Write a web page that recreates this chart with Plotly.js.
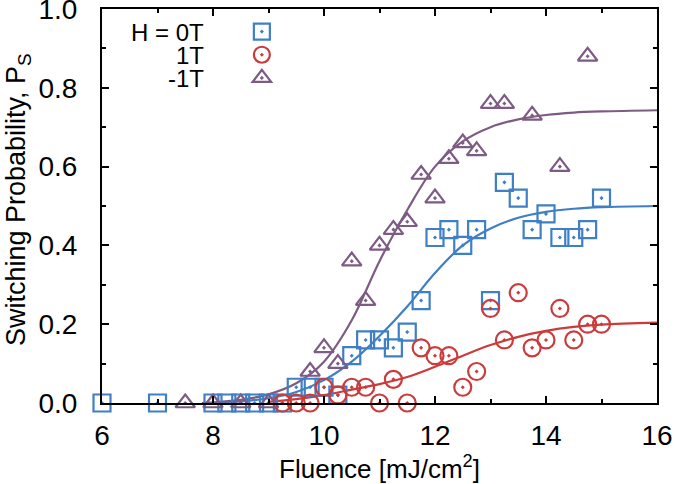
<!DOCTYPE html>
<html>
<head>
<meta charset="utf-8">
<script src="https://cdn.plot.ly/plotly-3.0.1.min.js"></script>
<style>html,body{margin:0;padding:0;background:#fff;}#plot{width:675px;height:484px;}</style>
</head>
<body>
<div id="plot"></div>
<script>
// Measured data: H = 0T (squares)
const h0X = [6, 7, 8, 8.25, 8.5, 8.75, 9, 9.25, 9.5, 9.75, 10, 10.25, 10.5, 10.75, 11, 11.25, 11.5, 11.75, 12, 12.25, 12.5, 12.75, 13, 13.25, 13.5, 13.75, 14, 14.25, 14.5, 14.75, 15];
const h0Y = [0, 0, 0, 0, 0, 0, 0, 0, 0.04, 0.04, 0.04, 0.02, 0.12, 0.16, 0.16, 0.14, 0.18, 0.26, 0.42, 0.44, 0.40, 0.44, 0.26, 0.56, 0.52, 0.44, 0.48, 0.42, 0.42, 0.44, 0.52];
// H = 1T (circles)
const h1X = [9.25, 9.5, 9.75, 10, 10.25, 10.5, 10.75, 11, 11.25, 11.5, 11.75, 12, 12.25, 12.5, 12.75, 13, 13.25, 13.5, 13.75, 14, 14.25, 14.5, 14.75, 15];
const h1Y = [0, 0, 0, 0.04, 0.02, 0.04, 0.04, 0, 0.06, 0, 0.14, 0.12, 0.12, 0.04, 0.08, 0.24, 0.16, 0.28, 0.14, 0.16, 0.24, 0.16, 0.20, 0.20];
// H = -1T (triangles)
const hm1X = [7.5, 8, 8.5, 9, 9.75, 10, 10.25, 10.5, 10.75, 11, 11.25, 11.5, 11.75, 12, 12.25, 12.5, 12.75, 13, 13.25, 13.75, 14.25, 14.75];
const hm1Y = [0, 0, 0, 0, 0.08, 0.14, 0.10, 0.36, 0.26, 0.40, 0.44, 0.46, 0.58, 0.52, 0.62, 0.66, 0.64, 0.76, 0.76, 0.73, 0.60, 0.88];

// Fit curves
const fit0X = [8, 8.5, 9, 9.5, 10, 10.5, 11, 11.5, 12, 12.5, 13, 13.5, 14, 14.5, 15, 16];
const fit0Y = [0.0, 0.004, 0.012, 0.028, 0.058, 0.105, 0.17, 0.245, 0.33, 0.4, 0.443, 0.47, 0.485, 0.493, 0.497, 0.5];
const fit1X = [9, 9.5, 10, 10.5, 11, 11.5, 12, 12.5, 13, 13.5, 14, 14.5, 15, 16];
const fit1Y = [0.003, 0.01, 0.02, 0.034, 0.048, 0.066, 0.092, 0.12, 0.147, 0.168, 0.183, 0.193, 0.199, 0.204];
const fitm1X = [7.8, 8.5, 9, 9.5, 10, 10.5, 11, 11.5, 12, 12.5, 13, 13.5, 14, 14.5, 15, 16];
const fitm1Y = [0.0, 0.008, 0.022, 0.05, 0.105, 0.21, 0.36, 0.49, 0.6, 0.664, 0.7, 0.72, 0.731, 0.737, 0.74, 0.743];

const legendLabels = ["H = 0T", "1T", "-1T"];
const xTickVals = [6, 8, 10, 12, 14, 16];
const yTickVals = [0, 0.2, 0.4, 0.6, 0.8, 1.0];
const yTitle = 'Switching Probability, P<sub>S</sub>';
const xTitle = 'Fluence [mJ/cm<sup>2</sup>]';

const cBlue = '#3f7fc6', cRed = '#cc3b3b', cPurple = '#7d5b84';
const FONT = 'Liberation Sans, Arial, Helvetica, sans-serif';

const mk = (sym, col) => ({symbol: sym, size: 17, color: col, line: {color: col, width: 2.2}});

const traces = [
  {x: fit0X, y: fit0Y, mode: 'lines', line: {color: cBlue, width: 2.2, shape: 'spline'}, showlegend: false, hoverinfo: 'skip'},
  {x: fit1X, y: fit1Y, mode: 'lines', line: {color: cRed, width: 2.2, shape: 'spline'}, showlegend: false, hoverinfo: 'skip'},
  {x: fitm1X, y: fitm1Y, mode: 'lines', line: {color: cPurple, width: 2.2, shape: 'spline'}, showlegend: false, hoverinfo: 'skip'},
  {x: h0X, y: h0Y, mode: 'markers', name: ' ', marker: mk('square-open-dot', cBlue), cliponaxis: false},
  {x: h1X, y: h1Y, mode: 'markers', name: ' ', marker: mk('circle-open-dot', cRed), cliponaxis: false},
  {x: hm1X, y: hm1Y, mode: 'markers', name: ' ', marker: mk('triangle-up-open-dot', cPurple), cliponaxis: false}
];

const PW = 555, PH = 394;
const annots = legendLabels.map((t, i) => ({
  text: t, xref: 'paper', yref: 'paper', x: (206 - 102) / PW, xanchor: 'right',
  y: 1 - (32 + 23 * i - 9) / PH, yanchor: 'middle', showarrow: false,
  font: {family: FONT, size: 24, color: '#000'}
}));
annots.push({
  text: yTitle, xref: 'paper', yref: 'paper', x: 0, xshift: -84, xanchor: 'center',
  y: 1 - (200 - 9) / PH, yanchor: 'middle', textangle: -90, showarrow: false,
  font: {family: FONT, size: 27, color: '#000'}
});

const layout = {
  width: 675, height: 484,
  margin: {l: 102, r: 18, t: 9, b: 81},
  paper_bgcolor: '#fff', plot_bgcolor: '#fff',
  font: {family: FONT, color: '#000', size: 25},
  xaxis: {
    showline: true, linecolor: '#000', linewidth: 2, mirror: 'ticks',
    ticks: 'inside', ticklen: 7, tickwidth: 2, tickcolor: '#000',
    showgrid: false, zeroline: false, automargin: false,
    tickfont: {family: FONT, size: 28, color: '#000'},
    range: [6, 16], tickmode: 'array', tickvals: xTickVals, ticktext: xTickVals.map(String), ticklabelstandoff: 6,
    minor: {dtick: 1, ticks: 'inside', ticklen: 4, tickwidth: 2, tickcolor: '#000'},
    title: {text: xTitle, font: {family: FONT, size: 26, color: '#000'}, standoff: 12}
  },
  yaxis: {
    showline: true, linecolor: '#000', linewidth: 2, mirror: 'ticks',
    ticks: 'inside', ticklen: 7, tickwidth: 2, tickcolor: '#000',
    showgrid: false, zeroline: false, automargin: false, ticklabeloverflow: 'allow',
    tickfont: {family: FONT, size: 28, color: '#000'},
    range: [0, 1], tickmode: 'array', tickvals: yTickVals, ticktext: yTickVals.map(v => v.toFixed(1)), ticklabelstandoff: 17,
    minor: {dtick: 0.1, ticks: 'inside', ticklen: 4, tickwidth: 2, tickcolor: '#000'}
  },
  showlegend: true,
  legend: {x: 0.252, y: 1 - 6 / PH, xanchor: 'left', yanchor: 'top', bgcolor: 'rgba(0,0,0,0)',
           font: {family: FONT, size: 15.5}, tracegroupgap: 0, itemwidth: 30},
  annotations: annots
};

Plotly.newPlot('plot', traces, layout, {displayModeBar: false, staticPlot: true});
</script>
</body>
</html>
